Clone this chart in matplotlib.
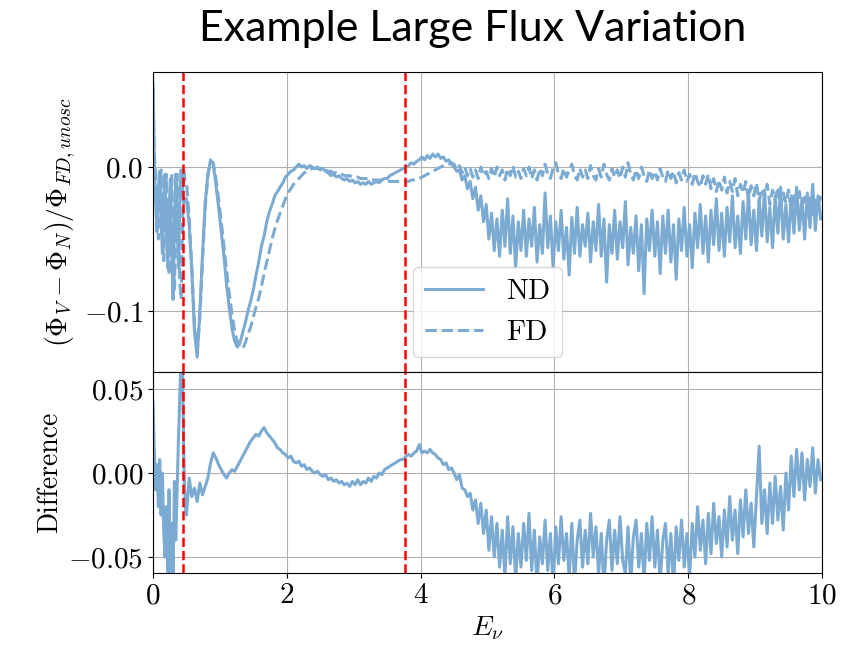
import numpy as np
import matplotlib
matplotlib.use("Agg")
import matplotlib.pyplot as plt

plt.rcParams['font.family'] = 'cmr10'
plt.rcParams['mathtext.fontset'] = 'cm'
plt.rcParams['axes.formatter.use_mathtext'] = True

# energy grid: fine below 0.5, coarser above
energy = np.r_[np.arange(0, 0.5, 0.02), np.arange(0.5, 10, 0.04)]

# values in units of 1e-3
nd = [
    58, 0, -25, -45, -15, -3, -35, -60, -20, -5, -45, -70, -30, -8, -60, -92, -40, -5, -40, -70, -25, -2, -15, -25, -22,
    # 0.50 - 1.46
    -22, -40, -72, -115, -132, -100, -60, -25, -5, 5, 2, -12, -28, -45, -62, -82, -98, -112, -121, -125, -122, -115, -108, -100, -93,
    # 1.50 - 2.46
    -85, -75, -66, -55, -48, -38, -31, -26, -20, -17, -14, -11, -7, -5, -3, -2, 0, 2, 0, 1, -1, 1, 0, -1, 0,
    # 2.50 - 3.46
    -2, -1, -3, -4, -6, -5, -7, -6, -8, -9, -8, -10, -9, -11, -10, -12, -11, -12, -10, -12, -11, -10, -11, -9, -8,
    # 3.50 - 4.46
    -8, -6, -5, -4, -3, -2, -1, 0, 1, 3, 2, 4, 5, 7, 5, 8, 6, 9, 7, 9, 6, 7, 4, 5, 2,
    # 4.50 - 5.46
    0, -3, -2, -9, -6, -15, -10, -22, -14, -30, -20, -38, -26, -50, -32, -58, -36, -62, -30, -55, -22, -60, -34, -70, -38,
    # 5.50 - 6.46
    -58, -30, -62, -36, -55, -28, -66, -40, -60, -18, -56, -34, -70, -38, -58, -30, -64, -42, -75, -35, -60, -28, -62, -40, -55,
    # 6.50 - 7.46
    -32, -66, -38, -58, -26, -62, -36, -80, -40, -60, -30, -64, -38, -56, -24, -68, -42, -60, -34, -72, -40, -88, -36, -58, -30,
    # 7.50 - 8.46
    -62, -38, -74, -34, -60, -30, -66, -40, -78, -36, -58, -28, -62, -40, -70, -32, -56, -26, -60, -34, -66, -30, -54, -22, -58,
    # 8.50 - 9.46
    -32, -62, -28, -52, -20, -56, -34, -60, -24, -50, -18, -54, -30, -58, -22, -48, -16, -52, -28, -56, -20, -46, -14, -50, -26,
    # 9.50 - 9.98
    -52, -20, -46, -14, -44, -22, -50, -18, -42, -12, -44, -20, -36,
]

fd = [
    55, 8, -5, -30, -50, -20, -2, -40, -65, -25, -5, -50, -75, -35, -5, -55, -85, -45, -5, -40, -80, -92, -40, -2, -10,
    # 0.50 - 1.46
    -10, -35, -70, -110, -128, -105, -65, -28, -6, 4, 3, -8, -22, -38, -55, -72, -88, -102, -114, -121, -125, -126, -122, -116, -111,
    # 1.50 - 2.46
    -104, -97, -91, -83, -74, -66, -58, -50, -43, -37, -32, -27, -22, -18, -15, -12, -10, -8, -6, -4, -3, -2, -1, -1, -1,
    # 2.50 - 3.46
    -1, -2, -2, -3, -3, -4, -4, -5, -5, -6, -6, -6, -7, -7, -7, -8, -8, -8, -8, -9, -9, -9, -9, -9, -10,
    # 3.50 - 4.46
    -10, -10, -10, -10, -10, -10, -10, -10, -10, -9, -9, -8, -8, -7, -6, -5, -4, -3, -2, -1, 0, 1, 2, 2, 3,
    # 4.50 - 5.46
    2, -2, 1, -4, 0, -6, -1, -7, -2, -8, 0, -6, -3, -8, -1, -7, 0, -6, -2, -9, -1, -6, 1, -7, -3,
    # 5.50 - 6.46
    -8, -1, -6, 0, -8, -2, -9, -1, -6, 2, -5, -8, -1, 3, -5, -8, -1, -7, -2, 2, -6, -9, -1, -7, -2,
    # 6.50 - 7.46
    -8, 1, -6, -9, -1, -7, 2, -5, -9, -1, -7, -2, -8, 0, -7, 3, -5, -9, -2, -8, 0, -6, -10, -2, -8,
    # 7.50 - 8.46
    -3, -9, -1, -7, -10, -2, -8, -3, -11, -4, -9, -2, -10, -5, -12, -4, -10, -14, -6, -12, -5, -15, -8, -17, -9,
    # 8.50 - 9.46
    -16, -7, -18, -10, -17, -8, -20, -12, -18, -10, -22, -13, -20, -11, -24, -15, -21, -12, -26, -16, -23, -14, -28, -18, -25,
    # 9.50 - 9.98
    -16, -30, -20, -27, -17, -31, -21, -28, -19, -33, -23, -29, -20,
]

diff = [
    42, 12, -10, 5, -20, 8, -25, 0, -35, -50, -20, -62, -10, -65, -30, -62, -5, -40, -10, 20, 45, 70, 65, 10, -20,
    # 0.50 - 1.46
    -25, -3, -14, -9, -17, -6, -13, -8, -3, 6, 12, 9, 5, 2, -1, -3, 0, 2, 1, 4, 7, 10, 13, 16, 19,
    # 1.50 - 2.46
    21, 23, 22, 25, 27, 24, 22, 20, 18, 15, 14, 12, 11, 9, 10, 7, 6, 7, 4, 5, 2, 3, 1, 0, 1,
    # 2.50 - 3.46
    -1, -2, -1, -4, -3, -5, -4, -6, -5, -7, -6, -8, -5, -7, -4, -7, -5, -6, -3, -5, -2, -3, 0, -1, 2,
    # 3.50 - 4.46
    3, 4, 5, 6, 7, 8, 8, 10, 11, 10, 12, 13, 17, 12, 13, 12, 14, 12, 11, 9, 8, 5, 6, 2, 3,
    # 4.50 - 5.46
    0, -4, -1, -9, -10, -14, -12, -22, -16, -30, -18, -36, -22, -46, -26, -50, -30, -56, -34, -62, -26, -54, -32, -64, -36,
    # 5.50 - 6.46
    -56, -30, -52, -24, -58, -34, -66, -38, -54, -28, -58, -36, -68, -32, -54, -26, -52, -36, -62, -30, -66, -40, -28, -56, -34,
    # 6.50 - 7.46
    -54, -24, -50, -32, -60, -36, -68, -40, -28, -58, -34, -54, -26, -52, -60, -32, -66, -38, -28, -56, -36, -64, -30, -52, -26,
    # 7.50 - 8.46
    -56, -34, -66, -40, -30, -60, -36, -68, -32, -52, -28, -56, -36, -62, -30, -50, -20, -46, -28, -54, -24, -48, -18, -42, -26,
    # 8.50 - 9.46
    -50, -22, -44, -14, -40, -22, -48, -16, -38, -10, -36, -18, -44, -14, 16, -30, -10, -36, -6, -30, -2, -28, -8, -34, 0,
    # 9.50 - 9.98
    -22, 10, -14, 14, -10, 12, -16, 8, -8, 15, -12, 8, -4,
]

cut_low = 0.45
cut_high = 3.77

line_color = '#7BABD2'

fig = plt.figure(figsize=(8.53, 6.46), dpi=100)
ax0 = fig.add_axes([0.1794, 0.4241, 0.7843, 0.4644])
ax1 = fig.add_axes([0.1794, 0.1130, 0.7843, 0.3111], sharex=ax0)

ax0.plot(energy, np.array(nd) * 1e-3, color=line_color, lw=2.2, label='ND')
ax0.plot(energy, np.array(fd) * 1e-3, color=line_color, lw=2.2, ls='--', label='FD')
ax1.plot(energy, np.array(diff) * 1e-3, color=line_color, lw=2.2)

for ax in (ax0, ax1):
    ax.axvline(cut_low, color='red', ls='--', lw=1.8)
    ax.axvline(cut_high, color='red', ls='--', lw=1.8)
    ax.grid(True)
    ax.tick_params(labelsize=21)

ax0.set_xlim(0, 10)
ax0.set_ylim(-0.1424, 0.066)
ax0.set_yticks([-0.1, 0.0])
ax1.set_ylim(-0.0595, 0.0601)
ax1.set_yticks([-0.05, 0.0, 0.05])
ax1.set_xticks([0, 2, 4, 6, 8, 10])
plt.setp(ax0.get_xticklabels(), visible=False)

ax0.set_ylabel(r'$(\Phi_V - \Phi_N)/\Phi_{FD,unosc}$', fontsize=20)
ax1.set_ylabel('Difference', fontsize=20)
ax1.set_xlabel(r'$E_\nu$', fontsize=20)
ax0.legend(loc='lower center', fontsize=21)

fig.text(0.554, 0.955, 'Example Large Flux Variation', ha='center', va='center',
         fontsize=31, family='Lato')

fig.savefig('out.png', dpi=100)
